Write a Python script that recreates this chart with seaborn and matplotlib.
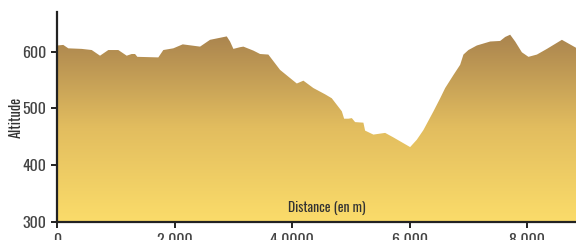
import numpy as np
import pandas as pd
import matplotlib
matplotlib.use('Agg')
import matplotlib.pyplot as plt
import seaborn as sns
from matplotlib import font_manager as fm
from matplotlib.colors import LinearSegmentedColormap
from matplotlib.patches import Polygon

# elevation profile
distance = [0, 107, 192, 420, 591, 732, 873, 1043, 1186, 1271, 1328, 1367, 1724,
            1809, 1979, 2139, 2434, 2604, 2888, 2944, 3001, 3115, 3171, 3341,
            3455, 3596, 3795, 3937, 4080, 4192, 4362, 4561, 4675, 4846, 4885,
            4958, 5016, 5072, 5213, 5242, 5383, 5583, 5724, 6008, 6122, 6234,
            6405, 6519, 6604, 6745, 6859, 6915, 7000, 7143, 7370, 7540, 7625,
            7710, 7795, 7909, 8021, 8165, 8335, 8590, 8830]
altitude = [611, 612, 606, 605, 603, 593, 603, 603, 593, 596, 596, 591, 590,
            603, 606, 613, 609, 621, 627, 618, 605, 608, 609, 602,
            596, 595, 568, 556, 544, 549, 536, 525, 518, 495, 482,
            482, 483, 476, 475, 461, 454, 457, 449, 432, 445, 462,
            495, 518, 536, 559, 577, 595, 603, 611, 618, 619, 626,
            630, 618, 599, 591, 595, 605, 621, 607]

x_ticks = [0, 2000, 4000, 6000, 8000]
x_labels = ['0', '2 000', '4 0000', '6 000', '8 000']
y_ticks = [300, 400, 500, 600]

df = pd.DataFrame({'Distance': distance, 'Altitude': altitude})

sns.set_style('ticks')
installed = {f.name for f in fm.fontManager.ttflist}
narrow = [f for f in ['Oswald', 'Pathway Gothic One', 'Barlow Condensed',
                      'Archivo Narrow', 'Asap Condensed'] if f in installed]
plt.rcParams['font.family'] = narrow[:1] + ['DejaVu Sans']

fig = plt.figure(figsize=(5.76, 2.4), dpi=100)
ax = fig.add_axes([57 / 576, 18 / 240, 1 - 57 / 576, 210 / 240])

sns.lineplot(data=df, x='Distance', y='Altitude', ax=ax, linewidth=0, color='#a9864f')

x0, x1 = 0, 8830
y0, y1 = 300, 670
ax.set_xlim(x0, x1)
ax.set_ylim(y0, y1)

# vertical gradient clipped to the area under the profile
cmap = LinearSegmentedColormap.from_list('terrain', ['#fbdc6a', '#e2bd5f', '#a9834e'])
grad = np.linspace(0, 1, 256).reshape(-1, 1)
img = ax.imshow(grad, cmap=cmap, aspect='auto', origin='lower',
                extent=[x0, x1, y0, 632], zorder=1)
verts = [(distance[0], y0)] + list(zip(distance, altitude)) + [(distance[-1], y0)]
clip = Polygon(verts, closed=True, transform=ax.transData, facecolor='none', edgecolor='none')
ax.add_patch(clip)
img.set_clip_path(clip)

ax.set_xticks(x_ticks)
ax.set_xticklabels(x_labels)
ax.set_yticks(y_ticks)

sns.despine(ax=ax)
for s in ['left', 'bottom']:
    ax.spines[s].set_color('#222222')
    ax.spines[s].set_linewidth(1.6)
    ax.spines[s].set_zorder(5)
ax.tick_params(axis='both', colors='#222222', labelcolor='#444444',
               length=4, width=1.4, labelsize=11.5)
ax.tick_params(axis='x', pad=4)

ax.set_xlabel('')
ax.set_ylabel('Altitude', fontsize=10.3, color='#333333', va='center')
ax.yaxis.set_label_coords(-0.079, 0.5)
ax.text(0.52, 0.035, 'Distance (en m)', transform=ax.transAxes, ha='center',
        va='bottom', fontsize=9.8, color='#333333', zorder=6)

fig.savefig('out.png', dpi=100)
